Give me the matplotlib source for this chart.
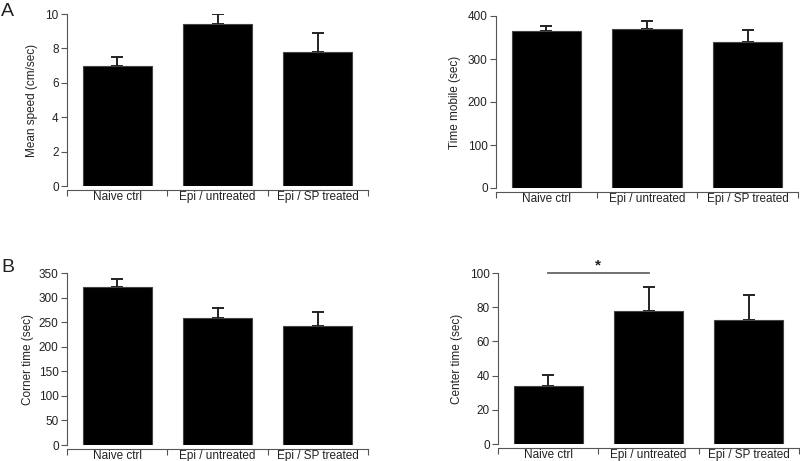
import matplotlib
matplotlib.use("Agg")
import matplotlib.pyplot as plt
import numpy as np

plt.rcParams['font.family'] = ['Liberation Sans', 'DejaVu Sans']
plt.rcParams['font.size'] = 8.5

groups = ['Naive ctrl', 'Epi / untreated', 'Epi / SP treated']

speed_mean = [7.0, 9.4, 7.8]
speed_err = [0.5, 0.6, 1.1]
mobile_mean = [365, 370, 339]
mobile_err = [12, 19, 29]
corner_mean = [322, 259, 243]
corner_err = [15, 20, 27]
center_mean = [34, 77.5, 72.5]
center_err = [6.5, 14.5, 14.5]

W, H = 800, 461
fig = plt.figure(figsize=(8, 4.61), dpi=100)

def make_ax(left, right, top, bottom):
    return fig.add_axes([left / W, (H - bottom) / H, (right - left) / W, (bottom - top) / H])

axes_px = [(67, 368, 14, 186), (496, 798, 16, 188), (67, 368, 273, 445), (498, 799, 273, 444)]
panels = [
    (speed_mean, speed_err, 'Mean speed (cm/sec)', (0, 10), np.arange(0, 11, 2), -0.097),
    (mobile_mean, mobile_err, 'Time mobile (sec)', (0, 400), np.arange(0, 401, 100), -0.116),
    (corner_mean, corner_err, 'Corner time (sec)', (0, 350), np.arange(0, 351, 50), -0.11),
    (center_mean, center_err, 'Center time (sec)', (0, 100), np.arange(0, 101, 20), -0.116),
]

x = np.arange(len(groups))
gray = '#555555'
axs = []
for (l, r, t, b), (mean, err, ylab, ylim, yt, lx) in zip(axes_px, panels):
    ax = make_ax(l, r, t, b)
    ax.bar(x, mean, width=0.69, color='black', edgecolor='#444444', linewidth=0.8, zorder=2)
    ax.errorbar(x, mean, yerr=[np.zeros(3), err], fmt='none', ecolor='#222222',
                elinewidth=1.4, capsize=4.5, capthick=1.4, zorder=1)
    ax.set_xlim(-0.5, 2.5)
    ax.set_ylim(*ylim)
    ax.set_yticks(yt)
    ax.set_xticks([-0.5, 0.5, 1.5, 2.5])
    ax.set_xticklabels([])
    ax.set_xticks(x, minor=True)
    ax.set_xticklabels(groups, minor=True)
    ax.tick_params(axis='x', which='minor', length=0, pad=0.5, colors='#222222')
    ax.tick_params(axis='x', which='major', length=4, width=0.8, color=gray)
    ax.tick_params(axis='y', length=4, width=0.8, color=gray, labelcolor='#222222', pad=2)
    for s in ['top', 'right']:
        ax.spines[s].set_visible(False)
    ax.spines['bottom'].set_position(('outward', 3))
    for s in ['left', 'bottom']:
        ax.spines[s].set_color(gray)
        ax.spines[s].set_linewidth(0.8)
    ax.set_ylabel(ylab, color='#222222')
    ax.yaxis.set_label_coords(lx, 0.5)
    axs.append(ax)

# significance bar
axs[3].plot([0, 1], [100, 100], color='#666666', lw=1.3, clip_on=False)
axs[3].text(0.5, 100.5, '*', ha='center', va='bottom', fontsize=11, fontweight='bold',
            color='#222222', clip_on=False)

fig.text(1 / W, 1 - 16 / H, 'A', fontsize=14, color='#222222')
fig.text(1 / W, 1 - 272 / H, 'B', fontsize=14, color='#222222')

fig.savefig('out.png', dpi=100)
